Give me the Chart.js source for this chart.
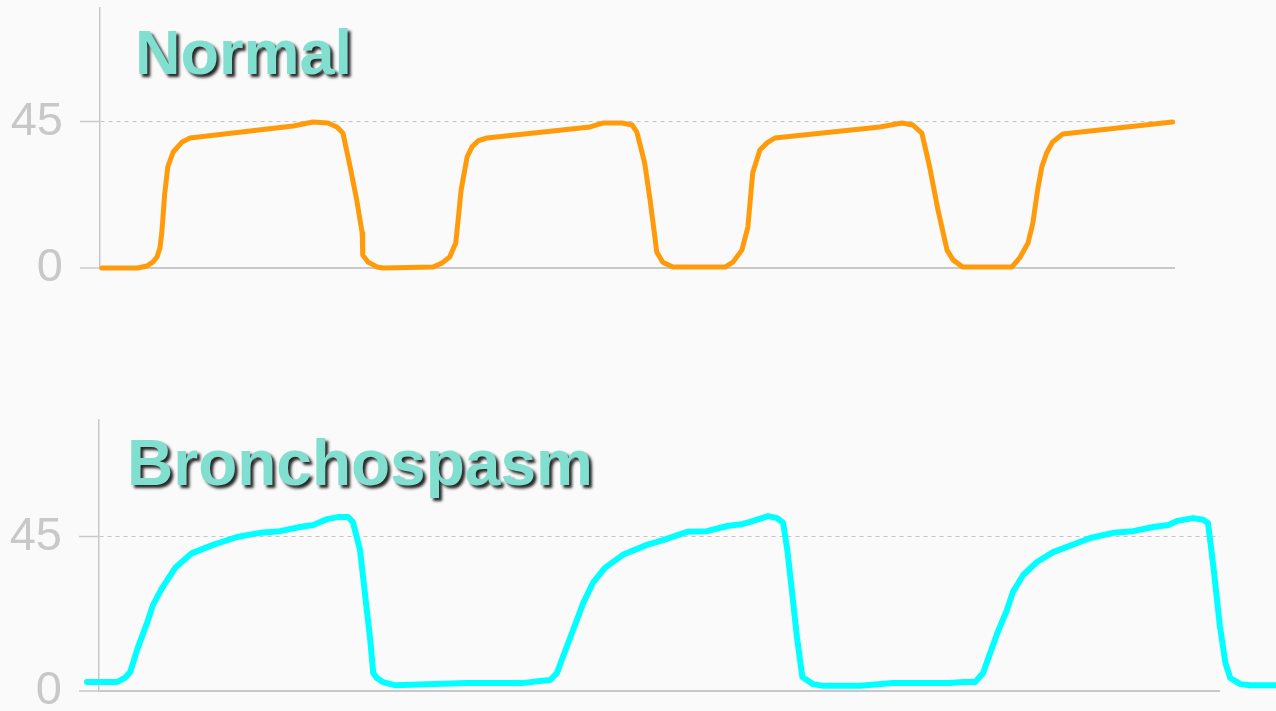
<!DOCTYPE html>
<html>
<head>
<meta charset="utf-8">
<script src="https://cdn.jsdelivr.net/npm/chart.js@4.4.1/dist/chart.umd.min.js"></script>
<style>
  html, body { margin: 0; padding: 0; background: #fafafa; overflow: hidden; }
  #wrap { position: relative; width: 1276px; height: 711px; }
  canvas { position: absolute; left: 0; top: 0; }
</style>
</head>
<body>
<div id="wrap">
  <canvas id="chart_normal" width="1276" height="711"></canvas>
  <canvas id="chart_broncho" width="1276" height="711"></canvas>
</div>
<script>
// y ticks shown on both capnograms (mmHg)
const yTicks = [0, 45];

// Normal capnogram: time (s) and CO2 (mmHg)
const normalTime = [
  0.03, 0.63, 0.78, 0.88, 0.95, 1.00, 1.03, 1.08, 1.13, 1.22, 1.37, 1.50, 3.22, 3.55, 3.80, 3.95, 4.05, 4.17, 4.28, 4.37, 4.38, 4.47, 4.62, 4.72,
  5.55, 5.70, 5.83, 5.93, 5.97, 6.02, 6.12, 6.20, 6.30, 6.45, 8.17, 8.38, 8.70, 8.87, 8.95, 9.08, 9.17, 9.25, 9.28, 9.38, 9.55, 9.63,
  10.42, 10.55, 10.70, 10.80, 10.88, 11.00, 11.12, 11.25, 13.00, 13.37, 13.55, 13.70, 13.83, 13.97, 14.12, 14.22, 14.38,
  15.20, 15.33, 15.47, 15.55, 15.63, 15.70, 15.78, 15.88, 16.05, 17.88
];
const normalCO2 = [
  0, 0, 0.6, 1.8, 3.4, 6.2, 10.8, 23.1, 31.1, 35.7, 38.8, 40.0, 43.7, 44.9, 44.6, 43.4, 41.5, 31.1, 20.9, 10.8, 4.0, 1.8, 0.3, 0,
  0.3, 1.5, 3.4, 7.7, 14.8, 24.0, 34.2, 37.2, 39.1, 40.0, 43.4, 44.6, 44.6, 44.0, 41.8, 32.3, 20.9, 9.5, 4.9, 1.8, 0.3, 0.3,
  0.3, 1.8, 5.5, 12.6, 29.2, 36.3, 38.5, 40.0, 43.4, 44.6, 44.0, 41.5, 31.1, 17.8, 5.5, 2.5, 0.3,
  0.3, 3.1, 7.7, 13.8, 24.0, 31.1, 35.4, 38.8, 41.2, 44.9
];

// Bronchospasm capnogram: time (s) and CO2 (mmHg)
const bronchoTime = [
  -0.20, 0.30, 0.43, 0.52, 0.65, 0.80, 0.90, 1.05, 1.27, 1.55, 1.90, 2.30, 2.68, 3.02, 3.35, 3.57, 3.65, 3.80, 3.98, 4.15,
  4.23, 4.35, 4.43, 4.52, 4.57, 4.63, 4.73, 4.93, 6.13, 7.05, 7.35, 7.52,
  7.63, 7.73, 7.90, 8.07, 8.23, 8.43, 8.73, 9.13, 9.40, 9.80, 10.13, 10.47, 10.73, 10.85, 11.15, 11.30,
  11.40, 11.47, 11.55, 11.63, 11.72, 11.90, 12.07, 12.68, 13.23, 14.18, 14.40, 14.60,
  14.73, 14.97, 15.13, 15.23, 15.40, 15.63, 15.90, 16.52, 16.90, 17.23, 17.57, 17.82, 17.97, 18.23, 18.40,
  18.48, 18.57, 18.68, 18.77, 18.85, 19.02, 19.18, 19.62
];
const bronchoCO2 = [
  2.6, 2.6, 3.8, 5.5, 12.8, 19.8, 25.1, 30.0, 35.9, 40.2, 42.6, 44.9, 46.1, 46.6, 47.8, 48.4, 49.0, 50.1, 50.7, 50.7,
  49.3, 41.1, 28.6, 14.9, 5.2, 3.8, 2.6, 1.7, 2.3, 2.3, 2.9, 3.2,
  5.2, 9.9, 17.8, 25.7, 31.5, 35.9, 39.7, 42.6, 44.0, 46.4, 46.6, 48.1, 48.7, 49.3, 51.0, 50.4,
  49.0, 41.1, 28.6, 15.7, 4.1, 2.0, 1.5, 1.5, 2.3, 2.3, 2.6, 2.6,
  5.2, 16.9, 23.6, 28.9, 33.8, 37.6, 40.5, 44.6, 46.1, 46.6, 47.8, 48.4, 49.6, 50.4, 49.9,
  49.0, 36.2, 18.7, 8.2, 3.8, 2.0, 1.7, 1.7
];

const gridGray = '#c8c8c8';
const labelFont = '"Liberation Sans", Arial, sans-serif';

function waveTitle(text, size, dx, dy) {
  return {
    id: 'waveTitle',
    afterDraw(chart) {
      const ctx = chart.ctx;
      const area = chart.chartArea;
      ctx.save();
      ctx.font = 'bold ' + size + 'px ' + labelFont;
      ctx.fillStyle = '#80dfcf';
      ctx.shadowColor = 'rgba(0,0,0,0.85)';
      ctx.shadowOffsetX = 3;
      ctx.shadowOffsetY = 3;
      ctx.shadowBlur = 3;
      ctx.textBaseline = 'alphabetic';
      ctx.fillText(text, area.left + dx, area.top + dy);
      ctx.restore();
    }
  };
}

function chartCapnogram(id, cfg) {
  return new Chart(document.getElementById(id), {
    type: 'line',
    data: {
      datasets: [{
        data: cfg.time.map((t, i) => ({ x: t, y: cfg.co2[i] })),
        borderColor: cfg.color,
        borderWidth: cfg.width,
        borderJoinStyle: 'round',
        borderCapStyle: 'round',
        pointRadius: 0,
        tension: 0,
        clip: false,
        fill: false
      }]
    },
    options: {
      responsive: false,
      animation: false,
      events: [],
      layout: { padding: cfg.padding },
      plugins: {
        legend: { display: false },
        tooltip: { enabled: false }
      },
      scales: {
        x: {
          type: 'linear',
          display: false,
          bounds: 'data',
          afterDataLimits: s => { s.min = 0; s.max = cfg.xMax; }
        },
        y: {
          min: 0,
          max: cfg.yMax,
          afterBuildTicks: s => { s.ticks = yTicks.map(v => ({ value: v })); },
          afterFit: s => { s.width = cfg.axisLeft; s.paddingTop = 0; s.paddingBottom = 0; },
          ticks: {
            color: gridGray,
            padding: 17,
            font: { family: labelFont, size: 47 }
          },
          grid: {
            color: c => (c.tick && c.tick.value === 0) ? '#c8c8c8' : '#c4c4c4',
            lineWidth: c => (c.tick && c.tick.value === 0) ? 2 : 1,
            tickLength: 20,
            tickWidth: 1.5,
            tickColor: gridGray
          },
          border: {
            color: gridGray,
            width: 1.5,
            dash: c => (c.tick && c.tick.value === 45) ? [4, 4] : []
          }
        }
      }
    },
    plugins: [waveTitle(cfg.title, cfg.titleSize, cfg.titleX, cfg.titleY)]
  });
}

document.chartNormal = chartCapnogram('chart_normal', {
  time: normalTime, co2: normalCO2,
  color: '#ff9b0a', width: 5,
  xMax: 17.92, yMax: 80, axisLeft: 100,
  padding: { top: 8, bottom: 443, left: 0, right: 101 },
  title: 'Normal', titleSize: 63, titleX: 35, titleY: 66
});

document.chartBroncho = chartCapnogram('chart_broncho', {
  time: bronchoTime, co2: bronchoCO2,
  color: '#00ffff', width: 6,
  xMax: 18.68, yMax: 79, axisLeft: 99,
  padding: { top: 420, bottom: 20, left: 0, right: 56 },
  title: 'Bronchospasm', titleSize: 64, titleX: 28, titleY: 65
});
</script>
</body>
</html>
